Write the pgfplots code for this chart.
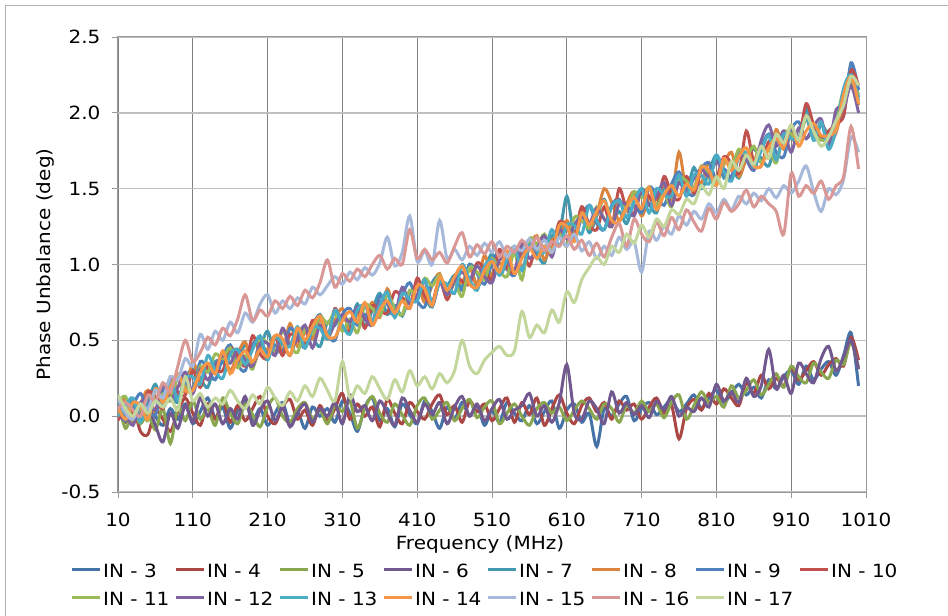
\documentclass[border=0pt]{standalone}
\usepackage{fontspec}
\setmainfont{DejaVu Sans}[FakeStretch=1.1]
\usepackage{pgfplots}
\usepackage{pgfplotstable}
\pgfplotsset{compat=1.18}
\definecolor{c3}{HTML}{4572A7}
\definecolor{c4}{HTML}{AA4643}
\definecolor{c5}{HTML}{89A54E}
\definecolor{c6}{HTML}{71588F}
\definecolor{c7}{HTML}{4198AF}
\definecolor{c8}{HTML}{DB843D}
\definecolor{c9}{HTML}{4F81BD}
\definecolor{c10}{HTML}{C0504D}
\definecolor{c11}{HTML}{9BBB59}
\definecolor{c12}{HTML}{8064A2}
\definecolor{c13}{HTML}{4BACC6}
\definecolor{c14}{HTML}{F79646}
\definecolor{c15}{HTML}{A7B9DA}
\definecolor{c16}{HTML}{D99795}
\definecolor{c17}{HTML}{C3D69B}
\newcommand\cf{\fontsize{18.2bp}{22bp}\selectfont}

% IN-3 .. IN-6
\pgfplotstableread{
f a3 a4 a5 a6
10 0.08 0.05 0.10 0.02
20 0.02 -0.04 -0.08 -0.03
30 -0.04 0.06 0.03 0.05
40 0.04 -0.10 -0.05 -0.02
50 0.10 -0.12 0.02 0.06
60 0.00 0.04 -0.09 -0.06
70 -0.06 -0.02 0.05 -0.17
80 0.05 -0.10 -0.18 0.02
90 -0.02 0.03 0.06 -0.08
100 0.08 0.12 -0.03 0.07
110 -0.05 0.02 0.10 -0.04
120 0.03 -0.06 -0.02 0.12
130 0.12 0.08 0.05 0.00
140 -0.01 -0.02 -0.06 0.08
150 0.06 0.10 0.12 -0.05
160 -0.08 -0.04 0.02 0.05
170 0.04 0.07 -0.05 -0.02
180 0.10 -0.03 0.08 0.13
190 -0.03 0.05 0.01 -0.06
200 0.05 0.13 -0.07 0.04
210 -0.06 0.00 0.06 0.10
220 0.02 -0.05 0.12 -0.03
230 0.09 0.06 0.00 0.06
240 -0.05 0.11 -0.04 -0.07
250 0.03 -0.02 0.05 0.02
260 -0.08 0.04 0.09 0.08
270 0.06 -0.06 -0.02 -0.04
280 0.00 0.07 0.04 0.05
290 0.05 -0.03 -0.05 0.00
300 -0.04 0.05 0.07 0.09
310 0.10 0.15 0.03 -0.05
320 0.02 -0.02 0.10 0.14
330 -0.10 0.08 -0.08 0.03
340 0.06 0.00 0.05 0.07
350 0.12 0.06 0.13 -0.03
360 -0.03 -0.07 0.02 0.10
370 0.05 0.11 -0.04 0.02
380 -0.07 0.02 0.08 -0.06
390 0.08 -0.05 0.01 0.12
400 0.01 0.09 -0.06 0.04
410 -0.05 0.03 0.07 -0.04
420 0.10 -0.02 0.12 0.08
430 0.03 0.08 -0.02 0.01
440 -0.08 0.14 0.04 0.09
450 0.06 0.01 0.09 -0.05
460 -0.02 0.07 -0.03 0.06
470 0.09 -0.04 0.05 0.13
480 0.00 0.10 0.11 0.00
490 0.07 0.03 -0.01 0.08
500 -0.06 0.08 0.06 -0.03
510 0.04 -0.03 0.10 0.05
520 -0.04 0.05 -0.05 0.11
530 0.09 0.12 0.02 -0.02
540 0.02 -0.04 0.08 0.04
550 -0.03 0.09 0.00 0.07
560 0.07 0.01 -0.06 0.15
570 -0.05 0.12 0.05 0.00
580 0.03 -0.06 0.09 0.07
590 0.10 0.05 0.02 -0.04
600 -0.08 0.14 0.06 0.09
610 0.04 0.02 -0.03 0.34
620 0.08 -0.05 0.04 0.02
630 -0.04 0.07 0.10 -0.02
640 0.02 0.12 0.05 0.10
650 -0.20 0.03 -0.02 0.05
660 0.05 0.09 0.08 -0.05
670 0.00 -0.02 0.05 0.16
680 0.08 0.10 -0.04 0.02
690 0.13 0.04 0.07 0.09
700 -0.03 0.08 0.02 0.01
710 0.05 -0.02 0.10 0.07
720 0.09 0.06 0.03 -0.01
730 0.01 0.12 0.08 0.10
740 0.06 0.02 -0.01 0.04
750 0.11 0.07 0.09 0.13
760 0.03 -0.15 0.14 0.00
770 0.08 0.05 -0.02 0.06
780 0.14 0.11 0.07 0.03
790 0.05 0.04 0.16 0.12
800 0.12 0.15 0.09 0.06
810 0.17 0.08 0.13 0.21
820 0.09 0.18 0.06 0.10
830 0.15 0.12 0.20 0.16
840 0.21 0.07 0.12 0.09
850 0.14 0.22 0.17 0.25
860 0.19 0.15 0.24 0.13
870 0.12 0.27 0.14 0.20
880 0.24 0.18 0.21 0.44
890 0.18 0.25 0.28 0.18
900 0.26 0.20 0.19 0.27
910 0.30 0.32 0.33 0.15
920 0.21 0.24 0.26 0.35
930 0.33 0.30 0.22 0.28
940 0.24 0.36 0.35 0.22
950 0.31 0.27 0.29 0.38
960 0.36 0.34 0.25 0.46
970 0.27 0.38 0.37 0.30
980 0.40 0.33 0.34 0.39
990 0.55 0.52 0.49 0.50
1000 0.20 0.37 0.32 0.31
}\lowtab

% IN-7 .. IN-14
\pgfplotstableread{
f b7 b8 b9 b10 b11 b12 b13 b14
10 0.11 0.02 0.07 -0.03 0.09 0.12 0.00 0.06
20 0.00 0.12 -0.03 0.09 0.13 0.02 0.07 -0.02
30 0.11 -0.04 0.07 0.02 -0.03 -0.06 0.12 0.09
40 -0.03 0.08 0.15 0.00 0.05 0.09 -0.04 0.07
50 0.09 0.17 0.04 0.16 -0.03 0.10 0.13 -0.02
60 0.21 0.02 0.01 0.13 0.17 0.04 0.10 0.18
70 0.06 0.13 0.17 0.05 0.14 0.21 0.08 0.09
80 0.14 0.13 0.22 0.26 0.10 0.11 0.23 0.19
90 0.09 0.25 0.13 0.16 0.26 0.19 0.11 0.28
100 0.25 0.16 0.22 0.14 0.19 0.29 0.25 0.17
110 0.31 0.36 0.18 0.30 0.16 0.15 0.26 0.17
120 0.25 0.23 0.36 0.19 0.33 0.31 0.21 0.29
130 0.19 0.32 0.31 0.34 0.29 0.24 0.40 0.35
140 0.36 0.28 0.24 0.31 0.41 0.33 0.30 0.28
150 0.35 0.42 0.39 0.30 0.38 0.40 0.25 0.43
160 0.42 0.30 0.47 0.45 0.45 0.35 0.41 0.28
170 0.33 0.41 0.34 0.40 0.32 0.44 0.44 0.37
180 0.48 0.49 0.30 0.33 0.40 0.37 0.34 0.43
190 0.34 0.33 0.47 0.53 0.31 0.33 0.44 0.36
200 0.45 0.45 0.51 0.41 0.50 0.48 0.53 0.44
210 0.56 0.44 0.40 0.38 0.48 0.48 0.37 0.39
220 0.41 0.53 0.47 0.52 0.42 0.40 0.52 0.53
230 0.48 0.43 0.42 0.40 0.56 0.58 0.48 0.51
240 0.40 0.61 0.58 0.54 0.47 0.46 0.46 0.40
250 0.54 0.46 0.52 0.50 0.42 0.51 0.59 0.58
260 0.59 0.55 0.45 0.48 0.58 0.60 0.45 0.50
270 0.52 0.51 0.59 0.63 0.54 0.45 0.58 0.59
280 0.46 0.64 0.67 0.59 0.66 0.60 0.58 0.66
290 0.62 0.51 0.54 0.51 0.61 0.52 0.51 0.53
300 0.60 0.63 0.50 0.71 0.68 0.61 0.70 0.52
310 0.67 0.71 0.67 0.59 0.56 0.67 0.60 0.63
320 0.59 0.55 0.71 0.56 0.64 0.62 0.54 0.69
330 0.74 0.67 0.60 0.71 0.55 0.72 0.70 0.62
340 0.59 0.65 0.67 0.58 0.73 0.64 0.73 0.75
350 0.70 0.75 0.62 0.73 0.71 0.60 0.63 0.60
360 0.81 0.65 0.79 0.70 0.66 0.75 0.73 0.70
370 0.67 0.84 0.74 0.68 0.80 0.75 0.82 0.76
380 0.73 0.69 0.66 0.82 0.71 0.67 0.65 0.68
390 0.66 0.78 0.80 0.78 0.67 0.85 0.81 0.76
400 0.81 0.74 0.88 0.71 0.83 0.74 0.77 0.71
410 0.86 0.87 0.76 0.91 0.79 0.80 0.76 0.86
420 0.79 0.75 0.72 0.79 0.91 0.89 0.90 0.84
430 0.72 0.86 0.88 0.75 0.86 0.73 0.75 0.73
440 0.89 0.94 0.92 0.90 0.93 0.88 0.88 0.92
450 0.86 0.77 0.80 0.77 0.80 0.80 0.87 0.83
460 0.93 0.89 0.88 0.92 0.88 0.89 0.81 0.92
470 0.85 0.88 0.83 0.89 0.79 0.95 1.00 0.99
480 1.00 0.98 1.00 0.87 0.98 0.90 0.90 0.87
490 0.85 0.87 0.94 1.01 0.95 0.99 0.83 0.85
500 0.96 1.06 0.87 0.97 0.90 0.92 0.99 0.96
510 1.07 0.92 1.01 0.90 1.04 0.88 1.03 1.02
520 0.93 1.01 1.09 1.10 0.96 1.03 0.93 0.95
530 1.00 0.97 0.97 0.98 0.92 1.03 1.03 1.09
540 0.93 1.10 0.93 0.95 1.08 0.96 1.12 0.94
550 1.08 0.98 1.10 1.10 0.90 1.14 0.96 1.04
560 1.14 1.11 1.15 0.99 1.17 1.04 1.13 1.11
570 1.07 1.19 1.04 1.14 1.13 1.10 1.09 1.04
580 1.01 1.03 1.12 1.11 1.20 1.19 1.08 1.12
590 1.19 1.16 1.08 1.10 1.09 1.05 1.23 1.08
600 1.20 1.18 1.28 1.28 1.20 1.23 1.12 1.26
610 1.45 1.29 1.24 1.25 1.12 1.17 1.26 1.25
620 1.20 1.19 1.17 1.18 1.31 1.26 1.26 1.15
630 1.35 1.38 1.31 1.38 1.29 1.32 1.20 1.34
640 1.21 1.24 1.39 1.26 1.24 1.27 1.39 1.26
650 1.32 1.33 1.27 1.23 1.38 1.37 1.29 1.35
660 1.43 1.50 1.23 1.38 1.30 1.30 1.23 1.42
670 1.28 1.41 1.39 1.25 1.25 1.25 1.38 1.29
680 1.35 1.29 1.43 1.50 1.41 1.40 1.42 1.28
690 1.27 1.40 1.31 1.36 1.36 1.39 1.31 1.38
700 1.42 1.48 1.39 1.34 1.48 1.32 1.41 1.44
710 1.47 1.32 1.34 1.49 1.44 1.50 1.50 1.37
720 1.40 1.44 1.51 1.45 1.51 1.39 1.34 1.51
730 1.34 1.43 1.46 1.38 1.39 1.45 1.50 1.36
740 1.51 1.53 1.39 1.58 1.47 1.54 1.46 1.46
750 1.49 1.43 1.53 1.46 1.38 1.39 1.45 1.52
760 1.56 1.74 1.61 1.43 1.57 1.54 1.59 1.45
770 1.48 1.48 1.49 1.58 1.55 1.47 1.45 1.53
780 1.64 1.58 1.46 1.47 1.51 1.57 1.59 1.49
790 1.50 1.54 1.63 1.62 1.65 1.63 1.59 1.64
800 1.61 1.67 1.67 1.59 1.57 1.58 1.53 1.62
810 1.72 1.55 1.56 1.57 1.53 1.68 1.72 1.52
820 1.57 1.66 1.63 1.71 1.68 1.60 1.61 1.70
830 1.64 1.74 1.58 1.67 1.64 1.56 1.55 1.62
840 1.57 1.58 1.75 1.60 1.76 1.71 1.71 1.71
850 1.71 1.69 1.69 1.88 1.71 1.70 1.74 1.77
860 1.76 1.68 1.62 1.67 1.78 1.63 1.64 1.65
870 1.70 1.79 1.77 1.65 1.67 1.82 1.75 1.65
880 1.65 1.70 1.86 1.81 1.76 1.92 1.85 1.77
890 1.82 1.89 1.74 1.69 1.67 1.78 1.69 1.83
900 1.81 1.76 1.71 1.85 1.87 1.88 1.86 1.77
910 1.89 1.86 1.89 1.83 1.86 1.74 1.83 1.92
920 1.82 1.83 1.94 1.82 1.82 1.90 1.83 1.78
930 2.03 1.96 1.83 2.06 1.96 1.83 1.97 1.88
940 1.82 1.83 1.90 1.92 1.87 1.91 1.82 1.93
950 1.92 1.94 1.84 1.84 1.82 1.96 1.94 1.85
960 1.86 1.80 1.84 1.88 1.83 1.78 1.76 1.85
970 1.90 1.87 1.97 1.93 1.95 2.02 1.89 1.89
980 2.05 2.07 1.98 1.98 2.15 2.03 2.16 2.12
990 2.30 2.22 2.33 2.28 2.20 2.18 2.25 2.24
1000 2.10 2.05 2.15 2.18 2.12 2.00 2.08 2.06
}\midtab

% IN-15 .. IN-17
\pgfplotstableread{
f c15 c16 c17
10 0.12 0.05 0.14
20 0.02 0.09 0.05
30 -0.02 0.04 0.00
40 0.08 0.00 0.08
50 0.05 0.14 0.02
60 0.17 0.10 0.10
70 0.12 0.22 0.06
80 0.26 0.16 0.12
90 0.24 0.33 0.04
100 0.38 0.50 0.26
110 0.33 0.36 0.10
120 0.54 0.42 0.15
130 0.44 0.52 0.06
140 0.56 0.47 0.12
150 0.50 0.58 0.08
160 0.62 0.53 0.17
170 0.55 0.64 0.10
180 0.68 0.80 0.05
190 0.62 0.63 0.14
200 0.74 0.70 0.08
210 0.80 0.66 0.19
220 0.68 0.76 0.12
230 0.76 0.71 0.07
240 0.71 0.79 0.16
250 0.78 0.73 0.10
260 0.74 0.83 0.20
270 0.85 0.78 0.13
280 0.80 0.88 0.25
290 0.86 1.03 0.17
300 0.92 0.85 0.10
310 0.87 0.94 0.36
320 0.95 0.89 0.12
330 0.90 0.97 0.20
340 0.98 0.92 0.15
350 0.93 1.00 0.26
360 1.01 1.06 0.18
370 1.18 0.97 0.11
380 0.99 1.04 0.24
390 1.08 1.00 0.16
400 1.32 1.23 0.30
410 1.02 1.04 0.20
420 1.09 1.10 0.26
430 1.00 1.03 0.18
440 1.29 1.08 0.28
450 1.04 1.01 0.22
460 1.10 1.12 0.30
470 1.03 1.21 0.50
480 1.12 1.05 0.33
490 1.06 1.13 0.28
500 1.14 1.07 0.37
510 1.08 1.15 0.42
520 1.15 1.05 0.46
530 1.05 1.12 0.40
540 1.12 1.08 0.43
550 1.09 1.16 0.69
560 1.17 1.10 0.52
570 1.10 1.18 0.60
580 1.16 1.09 0.55
590 1.08 1.15 0.70
600 1.18 1.12 0.62
610 1.12 1.19 0.82
620 1.20 1.10 0.75
630 1.09 1.16 0.90
640 1.15 1.06 0.98
650 1.04 1.14 1.05
660 1.12 1.05 1.00
670 1.06 1.18 1.12
680 1.18 1.27 1.08
690 1.10 1.12 1.20
700 1.15 1.30 1.14
710 0.95 1.20 1.26
720 1.22 1.15 1.18
730 1.16 1.28 1.30
740 1.25 1.19 1.25
750 1.20 1.31 1.36
760 1.32 1.23 1.33
770 1.26 1.36 1.43
780 1.35 1.28 1.40
790 1.30 1.22 1.52
800 1.40 1.37 1.46
810 1.34 1.30 1.58
820 1.43 1.41 1.50
830 1.36 1.35 1.68
840 1.45 1.40 1.62
850 1.40 1.49 1.72
860 1.47 1.38 1.66
870 1.42 1.45 1.78
880 1.50 1.40 1.70
890 1.44 1.35 1.86
900 1.52 1.20 1.80
910 1.47 1.60 1.92
920 1.55 1.45 1.82
930 1.65 1.52 1.98
940 1.48 1.47 1.88
950 1.35 1.55 1.78
960 1.50 1.43 1.84
970 1.46 1.52 1.95
980 1.56 1.58 2.05
990 1.84 1.91 2.24
1000 1.74 1.63 2.18
}\hightab

\begin{document}
\begin{tikzpicture}
\useasboundingbox (0,0) rectangle (948bp,616bp);
\fill[white] (0,0) rectangle (948bp,616bp);
\draw[black!30, line width=1bp] (5.5bp,0) -- (5.5bp,610.5bp) -- (948bp,610.5bp);
\begin{axis}[
  at={(118bp,124bp)}, anchor=south west,
  scale only axis, width=748bp, height=455bp,
  xmin=10, xmax=1010, ymin=-0.5, ymax=2.5,
  xtick={10,110,210,310,410,510,610,710,810,910,1010},
  xticklabels={10,110,210,310,410,510,610,710,810,910,1010},
  ytick={-0.5,0,0.5,1,1.5,2,2.5},
  yticklabels={-0.5,0.0,0.5,1.0,1.5,2.0,2.5},
  tick label style={font=\cf},
  xticklabel style={yshift=-11bp},
  yticklabel style={xshift=-8bp},
  xtick pos=left, ytick pos=left,
  tick align=outside, major tick length=6bp,
  tick style={black!40, line width=0.8bp},
  axis line style={black!40, line width=1bp},
  grid=major,
  x grid style={black!50, line width=0.9bp},
  y grid style={black!25, line width=1.4bp},
  xlabel={Frequency (MHz)},
  ylabel={Phase Unbalance (deg)},
  every axis x label/.style={at={(axis description cs:0.484,0)}, yshift=-52bp, anchor=center, font=\cf},
  every axis y label/.style={at={(axis description cs:0,0.5)}, xshift=-73bp, rotate=90, anchor=center, font=\cf},
  no markers,
  every axis plot/.append style={line width=3bp, smooth},
  legend columns=8,
  legend image code/.code={\draw[#1, line width=3bp] (0bp,0.35em) -- (28bp,0.35em);},
  legend style={at={(axis description cs:-0.0642,-0.1474)}, anchor=north west,
    draw=none, fill=none, inner sep=0pt, font=\cf, column sep=0pt, row sep=0bp,
    nodes={inner xsep=2bp, inner ysep=5.5bp, text height=13bp, text depth=4bp, anchor=west}},
]
\addplot[c3] table[x=f, y=a3] {\lowtab};
\addlegendentry{\makebox[69bp][l]{IN - 3}}
\addplot[c4] table[x=f, y=a4] {\lowtab};
\addlegendentry{\makebox[69bp][l]{IN - 4}}
\addplot[c5] table[x=f, y=a5] {\lowtab};
\addlegendentry{\makebox[69bp][l]{IN - 5}}
\addplot[c6] table[x=f, y=a6] {\lowtab};
\addlegendentry{\makebox[69bp][l]{IN - 6}}
\addplot[c7] table[x=f, y=b7] {\midtab};
\addlegendentry{\makebox[69bp][l]{IN - 7}}
\addplot[c8] table[x=f, y=b8] {\midtab};
\addlegendentry{\makebox[69bp][l]{IN - 8}}
\addplot[c9] table[x=f, y=b9] {\midtab};
\addlegendentry{\makebox[69bp][l]{IN - 9}}
\addplot[c10] table[x=f, y=b10] {\midtab};
\addlegendentry{\makebox[69bp][l]{IN - 10}}
\addplot[c11] table[x=f, y=b11] {\midtab};
\addlegendentry{\makebox[69bp][l]{IN - 11}}
\addplot[c12] table[x=f, y=b12] {\midtab};
\addlegendentry{\makebox[69bp][l]{IN - 12}}
\addplot[c13] table[x=f, y=b13] {\midtab};
\addlegendentry{\makebox[69bp][l]{IN - 13}}
\addplot[c14] table[x=f, y=b14] {\midtab};
\addlegendentry{\makebox[69bp][l]{IN - 14}}
\addplot[c15] table[x=f, y=c15] {\hightab};
\addlegendentry{\makebox[69bp][l]{IN - 15}}
\addplot[c16] table[x=f, y=c16] {\hightab};
\addlegendentry{\makebox[69bp][l]{IN - 16}}
\addplot[c17] table[x=f, y=c17] {\hightab};
\addlegendentry{\makebox[69bp][l]{IN - 17}}
\end{axis}
\end{tikzpicture}
\end{document}
